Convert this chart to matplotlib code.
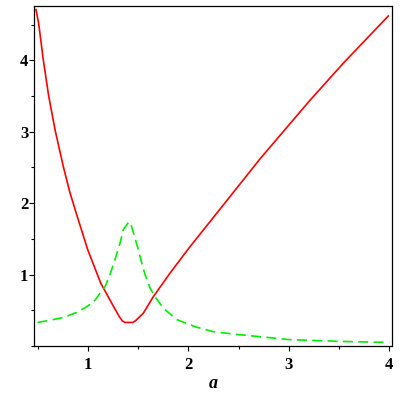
import matplotlib
matplotlib.use("Agg")
import matplotlib.pyplot as plt
from matplotlib.ticker import MultipleLocator

# values
a_red = [0.485, 0.512, 0.558, 0.611, 0.677, 0.757, 0.82, 0.896, 0.999, 1.129,
         1.238, 1.314, 1.345, 1.37, 1.45, 1.48, 1.553, 1.652, 1.818, 2.017,
         2.216, 2.714, 3.211, 3.543, 3.99]
v_red = [4.71, 4.51, 4.0, 3.5, 3.01, 2.51, 2.16, 1.81, 1.35, 0.88,
         0.60, 0.41, 0.35, 0.33, 0.33, 0.36, 0.46, 0.69, 1.02, 1.39,
         1.74, 2.62, 3.44, 3.96, 4.62]

a_green = [0.5, 0.624, 0.757, 0.89, 0.99, 1.072, 1.122, 1.172, 1.221, 1.271,
           1.321, 1.354, 1.41, 1.437, 1.47, 1.503, 1.537, 1.57, 1.62, 1.669,
           1.752, 1.885, 2.067, 2.25, 2.5, 3.0, 3.5, 4.0]
v_green = [0.33, 0.36, 0.40, 0.47, 0.55, 0.64, 0.74, 0.83, 1.0, 1.21,
           1.44, 1.63, 1.74, 1.67, 1.51, 1.35, 1.16, 1.0, 0.81, 0.69,
           0.53, 0.37, 0.27, 0.20, 0.16, 0.09, 0.065, 0.05]

x_ticks = [1, 2, 3, 4]
y_ticks = [1, 2, 3, 4]

fig = plt.figure(figsize=(4, 4), dpi=100)
ax = fig.add_axes([0.085, 0.135, 0.895, 0.85])

ax.plot(a_red, v_red, color="#ff0000", lw=1.2)
ax.plot(a_green, v_green, color="#00ee00", lw=1.2, dashes=(6, 3.2))

ax.set_xlim(0.465, 4.027)
ax.set_ylim(0.0, 4.76)
ax.set_xticks(x_ticks)
ax.set_yticks(y_ticks)
ax.xaxis.set_minor_locator(MultipleLocator(0.5))
ax.yaxis.set_minor_locator(MultipleLocator(0.5))

for s in ax.spines.values():
    s.set_linewidth(0.9)

ax.tick_params(which="major", direction="out", length=3.6, width=0.8)
ax.tick_params(which="minor", direction="out", length=2.3, width=0.8)
ax.tick_params(axis="x", pad=4)
ax.tick_params(axis="y", pad=0.5)

for lab in ax.get_xticklabels() + ax.get_yticklabels():
    lab.set_fontfamily("Liberation Serif")
    lab.set_fontweight("bold")
    lab.set_fontsize(12)

ax.set_xlabel("a", fontfamily="Liberation Serif", fontweight="bold",
              fontstyle="italic", fontsize=13, labelpad=2)

fig.savefig("out.png", dpi=100)
